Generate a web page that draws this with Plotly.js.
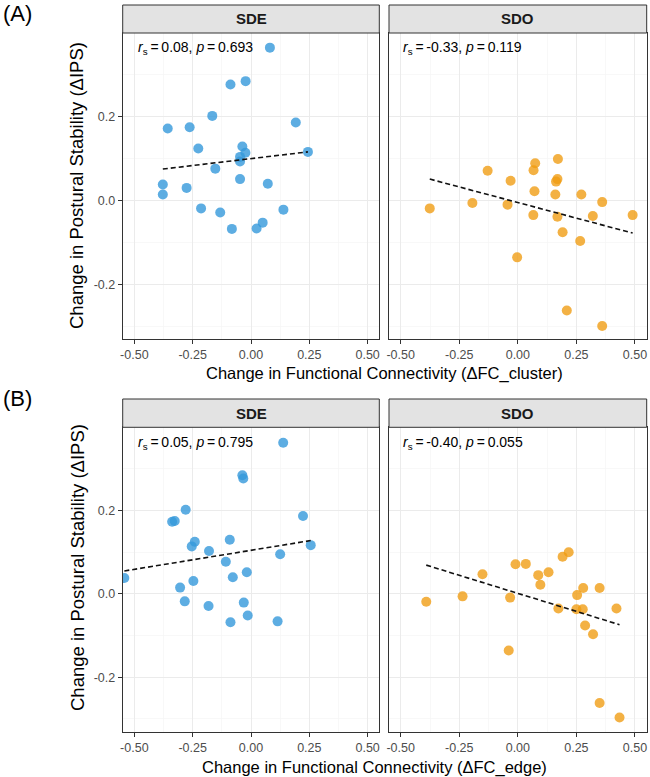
<!DOCTYPE html>
<html>
<head>
<meta charset="utf-8">
<script src="https://cdn.plot.ly/plotly-3.0.1.min.js"></script>
<style>
  html, body { margin: 0; padding: 0; background: #ffffff; }
  #chart { width: 650px; height: 777px; }
</style>
</head>
<body>
<div id="chart"></div>
<script>
// ---- (A) change in FC of the cluster vs change in postural stability ----
const sdeClusterX = [0.081, -0.088, -0.023, -0.166, -0.357, -0.263, 0.192, -0.226, -0.037, -0.024, -0.047, -0.047, 0.244, -0.153, -0.047, 0.072, -0.378, -0.378, -0.276, -0.214, -0.132, 0.139, -0.082, 0.024, 0.050];
const sdeClusterY = [0.365, 0.277, 0.285, 0.202, 0.172, 0.175, 0.186, 0.124, 0.129, 0.114, 0.104, 0.093, 0.116, 0.076, 0.051, 0.040, 0.038, 0.014, 0.030, -0.019, -0.029, -0.022, -0.068, -0.067, -0.053];
const sdoClusterX = [0.171, 0.074, -0.129, 0.067, -0.031, 0.169, 0.163, 0.071, 0.160, 0.271, 0.360, -0.376, -0.194, -0.044, 0.066, 0.169, 0.320, 0.490, 0.191, 0.266, -0.003, 0.209, 0.360];
const sdoClusterY = [0.099, 0.089, 0.071, 0.072, 0.047, 0.051, 0.045, 0.022, 0.014, 0.014, -0.004, -0.019, -0.006, -0.010, -0.035, -0.039, -0.037, -0.035, -0.076, -0.097, -0.136, -0.263, -0.300];

// ---- (B) change in FC of the edge vs change in postural stability ----
const sdeEdgeX = [0.138, -0.037, -0.033, -0.280, -0.338, -0.327, 0.223, -0.241, -0.254, -0.091, -0.180, 0.256, 0.125, -0.108, -0.018, -0.078, -0.543, -0.247, -0.304, -0.284, -0.182, -0.031, -0.014, -0.088, 0.114];
const sdeEdgeY = [0.363, 0.285, 0.277, 0.202, 0.173, 0.175, 0.187, 0.125, 0.114, 0.130, 0.103, 0.117, 0.095, 0.077, 0.052, 0.040, 0.038, 0.031, 0.015, -0.018, -0.029, -0.021, -0.052, -0.068, -0.066];
const sdoEdgeX = [0.217, 0.191, -0.010, 0.034, -0.151, 0.087, 0.131, 0.096, 0.279, 0.349, -0.391, -0.236, -0.033, 0.253, 0.173, 0.250, 0.277, 0.421, 0.287, 0.321, -0.039, 0.349, 0.434];
const sdoEdgeY = [0.100, 0.089, 0.071, 0.072, 0.047, 0.045, 0.052, 0.022, 0.014, 0.014, -0.019, -0.006, -0.009, -0.003, -0.035, -0.037, -0.037, -0.035, -0.076, -0.097, -0.136, -0.262, -0.297];

// linear fit lines (endpoints over each group's x range)
const fitSdeClusterX = [-0.378, 0.244];
const fitSdeClusterY = [0.075, 0.116];
const fitSdoClusterX = [-0.376, 0.490];
const fitSdoClusterY = [0.051, -0.078];
const fitSdeEdgeX = [-0.543, 0.256];
const fitSdeEdgeY = [0.055, 0.128];
const fitSdoEdgeX = [-0.391, 0.434];
const fitSdoEdgeY = [0.069, -0.074];

// Spearman statistics per panel: [A-SDE, A-SDO, B-SDE, B-SDO]
const rsValues = ['0.08', '-0.33', '0.05', '-0.40'];
const pValues = ['0.693', '0.119', '0.795', '0.055'];

const groups = ['SDE', 'SDO'];
const rowLabels = ['(A)', '(B)'];
const xTitles = ['Change in Functional Connectivity (\u0394FC_cluster)', 'Change in Functional Connectivity (\u0394FC_edge)'];
const yTitle = 'Change in Postural Stability (\u0394IPS)';

const xTickVals = [-0.5, -0.25, 0, 0.25, 0.5];
const xTickText = ['-0.50', '-0.25', '0.00', '0.25', '0.50'];
const yTickVals = [-0.2, 0, 0.2];
const yTickText = ['-0.2', '0.0', '0.2'];
const xMinorVals = [-0.375, -0.125, 0.125, 0.375];
const yMinorVals = [-0.3, -0.1, 0.1, 0.3];

// ---- page geometry (pixels -> paper) ----
const W = 650, H = 777;
const px = v => v / W;
const py = v => 1 - v / H;

const FONT = 'Liberation Sans, Arial, Helvetica, sans-serif';
const colBlue = 'rgba(52,152,219,0.8)';
const colOrange = 'rgba(239,155,15,0.78)';

const colsPx = [[122.7, 379.3], [389.0, 646.7]];
const rowsPx = [ { strip: [5, 33], plot: [33, 339] }, { strip: [399, 427.3], plot: [427.3, 731.7] } ];

const scatter = (x, y, color, xa, ya) => ({
  type: 'scatter', mode: 'markers', x: x, y: y, xaxis: xa, yaxis: ya,
  marker: { size: 10, color: color, line: { width: 0 } }, hoverinfo: 'skip'
});
const fit = (x, y, xa, ya) => ({
  type: 'scatter', mode: 'lines', x: x, y: y, xaxis: xa, yaxis: ya,
  line: { color: '#111111', width: 1.6, dash: '5px,3px' }, hoverinfo: 'skip'
});

const data = [
  scatter(sdeClusterX, sdeClusterY, colBlue, 'x', 'y'),
  fit(fitSdeClusterX, fitSdeClusterY, 'x', 'y'),
  scatter(sdoClusterX, sdoClusterY, colOrange, 'x2', 'y2'),
  fit(fitSdoClusterX, fitSdoClusterY, 'x2', 'y2'),
  scatter(sdeEdgeX, sdeEdgeY, colBlue, 'x3', 'y3'),
  fit(fitSdeEdgeX, fitSdeEdgeY, 'x3', 'y3'),
  scatter(sdoEdgeX, sdoEdgeY, colOrange, 'x4', 'y4'),
  fit(fitSdoEdgeX, fitSdoEdgeY, 'x4', 'y4')
];

const tickFont = { family: FONT, size: 12.5, color: '#4d4d4d' };

function xAxis(col, yAnchor) {
  return {
    domain: [px(colsPx[col][0]), px(colsPx[col][1])],
    anchor: yAnchor, range: [-0.55, 0.55],
    tickmode: 'array', tickvals: xTickVals, ticktext: xTickText,
    ticks: 'outside', ticklen: 4, tickwidth: 1, tickcolor: '#333333',
    tickfont: tickFont,
    showline: true, mirror: true, linecolor: '#333333', linewidth: 1,
    showgrid: true, gridcolor: '#ebebeb', gridwidth: 1, zeroline: false,
    minor: { tickmode: 'array', tickvals: xMinorVals, showgrid: true, gridcolor: '#f5f5f5', gridwidth: 0.7, ticks: '' },
    fixedrange: true
  };
}
function yAxis(row, col, xAnchor) {
  const left = col === 0;
  return {
    domain: [py(rowsPx[row].plot[1]), py(rowsPx[row].plot[0])],
    anchor: xAnchor, range: [-0.331, 0.400],
    tickmode: 'array', tickvals: yTickVals, ticktext: yTickText,
    ticks: left ? 'outside' : '', ticklen: 4, tickwidth: 1, tickcolor: '#333333',
    showticklabels: left, tickfont: tickFont,
    showline: true, mirror: true, linecolor: '#333333', linewidth: 1,
    showgrid: true, gridcolor: '#ebebeb', gridwidth: 1, zeroline: false,
    minor: { tickmode: 'array', tickvals: yMinorVals, showgrid: true, gridcolor: '#f5f5f5', gridwidth: 0.7, ticks: '' },
    fixedrange: true
  };
}

const thin = '\u2009';
const shapes = [];
const annotations = [];
let k = 0;
for (let r = 0; r < 2; r++) {
  for (let c = 0; c < 2; c++) {
    const [x0, x1] = colsPx[c];
    const [s0, s1] = rowsPx[r].strip;
    shapes.push({ type: 'rect', xref: 'paper', yref: 'paper', x0: px(x0), x1: px(x1), y0: py(s1), y1: py(s0),
      fillcolor: '#e3e3e3', line: { color: '#333333', width: 1 } });
    annotations.push({ xref: 'paper', yref: 'paper', x: px((x0 + x1) / 2), y: py((s0 + s1) / 2),
      text: '<b>' + groups[c] + '</b>', showarrow: false, xanchor: 'center', yanchor: 'middle',
      font: { family: FONT, size: 15, color: '#1a1a1a' } });
    annotations.push({ xref: 'paper', yref: 'paper', x: px(x0 + (c === 0 ? 13 : 11.7)), y: py(s1 + 15.5),
      text: '<i>r</i><sub>s</sub>' + thin + '=' + thin + rsValues[k] + ', <i>p</i>' + thin + '=' + thin + pValues[k],
      showarrow: false, xanchor: 'left', yanchor: 'middle',
      font: { family: FONT, size: 14, color: '#000000' } });
    k++;
  }
}

// row labels, shared axis titles
const yTitleCenters = [186, 568];
const xTitleCenters = [[384, 373], [375, 767]];
const rowLabelY = [13, 398];
for (let r = 0; r < 2; r++) {
  annotations.push({ xref: 'paper', yref: 'paper', x: px(1), y: py(rowLabelY[r]), text: rowLabels[r],
    showarrow: false, xanchor: 'left', yanchor: 'middle', font: { family: FONT, size: 22, color: '#000000' } });
  annotations.push({ xref: 'paper', yref: 'paper', x: px(77), y: py(yTitleCenters[r]), text: yTitle, textangle: -90,
    showarrow: false, xanchor: 'center', yanchor: 'middle', font: { family: FONT, size: 18.5, color: '#000000' } });
  annotations.push({ xref: 'paper', yref: 'paper', x: px(xTitleCenters[r][0]), y: py(xTitleCenters[r][1]), text: xTitles[r],
    showarrow: false, xanchor: 'center', yanchor: 'middle', font: { family: FONT, size: 16.5, color: '#000000' } });
}

const layout = {
  width: W, height: H,
  margin: { l: 0, r: 0, t: 0, b: 0, pad: 0 },
  paper_bgcolor: '#ffffff', plot_bgcolor: '#ffffff',
  showlegend: false,
  font: { family: FONT },
  xaxis: xAxis(0, 'y'), yaxis: yAxis(0, 0, 'x'),
  xaxis2: xAxis(1, 'y2'), yaxis2: yAxis(0, 1, 'x2'),
  xaxis3: xAxis(0, 'y3'), yaxis3: yAxis(1, 0, 'x3'),
  xaxis4: xAxis(1, 'y4'), yaxis4: yAxis(1, 1, 'x4'),
  shapes: shapes,
  annotations: annotations
};

Plotly.newPlot('chart', data, layout, { displayModeBar: false, staticPlot: true });
</script>
</body>
</html>
